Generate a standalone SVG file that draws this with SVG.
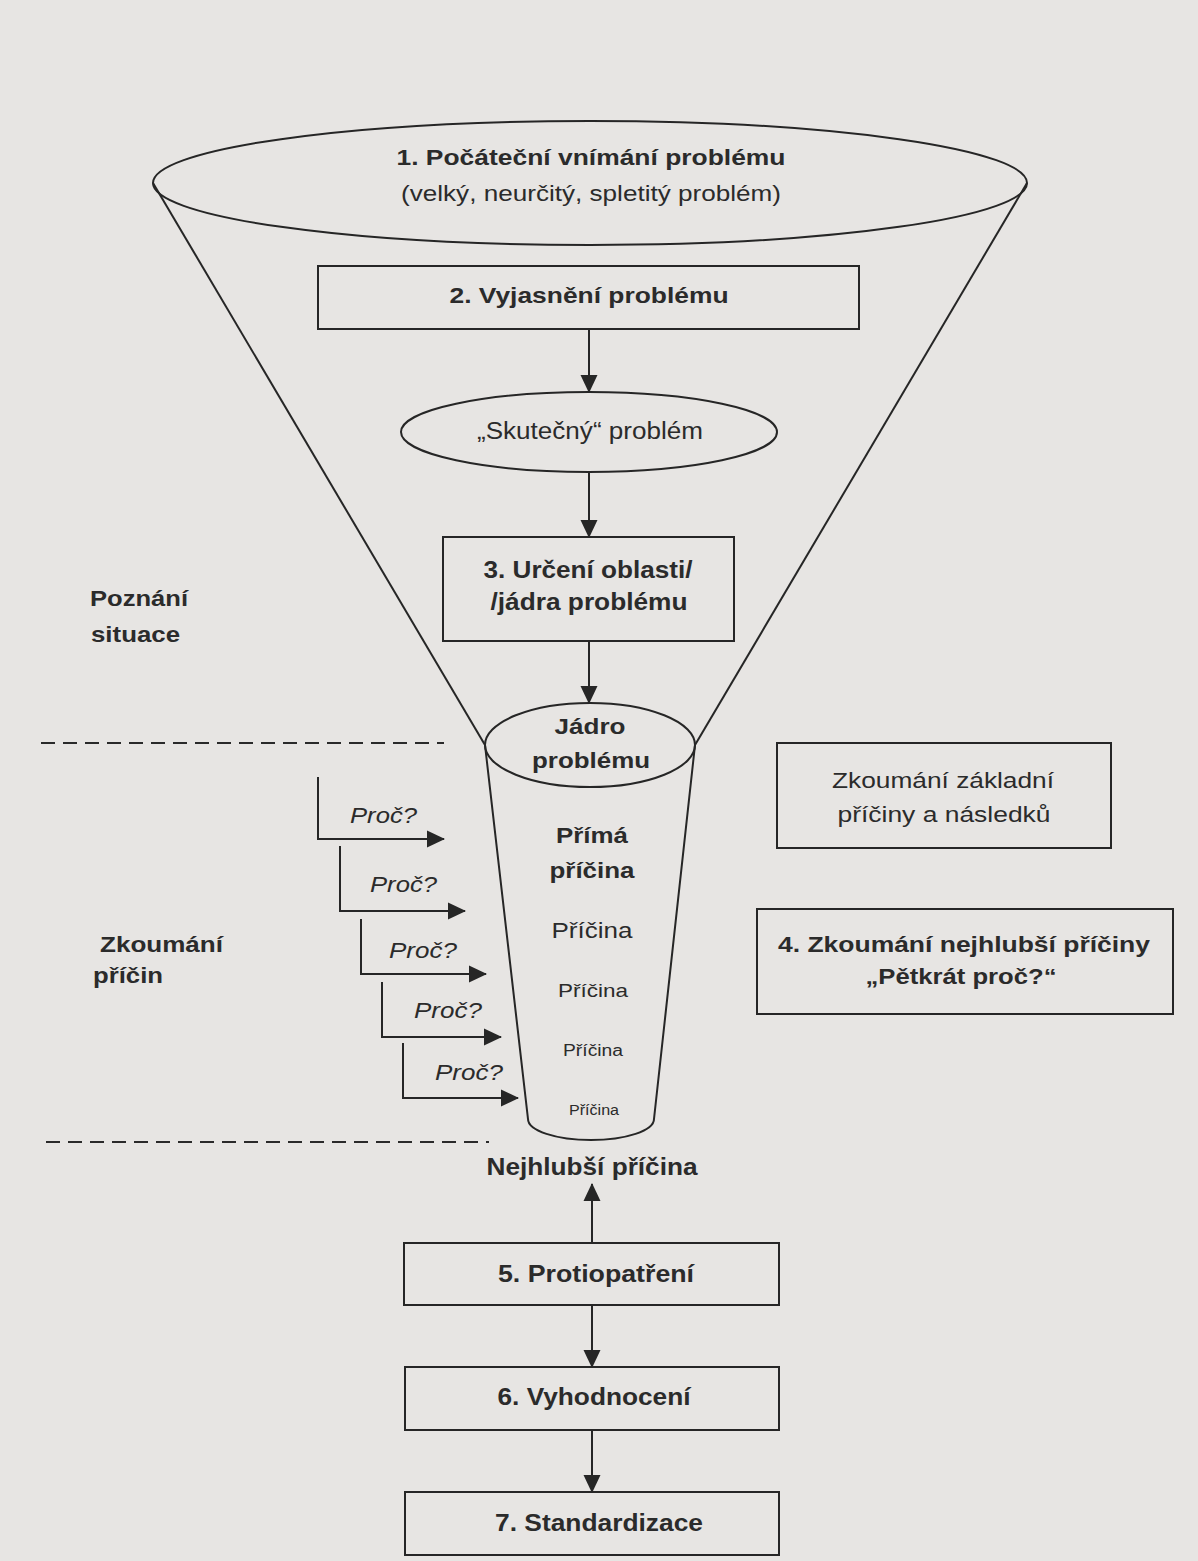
<svg xmlns="http://www.w3.org/2000/svg" width="1198" height="1561" viewBox="0 0 1198 1561">
<style>
  .ln{fill:none;stroke:#262626;stroke-width:2}
  .dash{fill:none;stroke:#2a2a2a;stroke-width:2.2;stroke-dasharray:14 8}
  text{fill:#2b2b2b;font-family:"Liberation Sans",Arial,sans-serif}
  .c{text-anchor:middle}
  .b{font-weight:bold}
  .n{font-family:"Liberation Sans Narrow","Liberation Sans",Arial,sans-serif}
  .i{font-style:italic}
</style>
<defs>
  <marker id="ah" markerUnits="userSpaceOnUse" markerWidth="18" markerHeight="18" viewBox="0 0 18 18" refX="17" refY="9" orient="auto">
    <path d="M0,0.5 L18,9 L0,17.5 z" fill="#262626"/>
  </marker>
</defs>
<rect x="0" y="0" width="1198" height="1561" fill="#e7e5e3"/>

<g id="funnel">
  <line class="ln" x1="153" y1="183" x2="485" y2="745"/>
  <line class="ln" x1="1027" y1="183" x2="695" y2="745"/>
</g>

<g id="step1">
  <ellipse class="ln" cx="590" cy="183" rx="437" ry="62"/>
  <text class="c b n" x="591" y="165" font-size="22" textLength="389" lengthAdjust="spacingAndGlyphs">1. Počáteční vnímání problému</text>
  <text class="c n" x="591" y="201" font-size="22" textLength="380" lengthAdjust="spacingAndGlyphs">(velký, neurčitý, spletitý problém)</text>
</g>

<g id="step2">
  <rect class="ln" x="318" y="266" width="541" height="63"/>
  <text class="c b n" x="589" y="303" font-size="22" textLength="279" lengthAdjust="spacingAndGlyphs">2. Vyjasnění problému</text>
</g>

<g id="real-problem">
  <ellipse class="ln" cx="589" cy="432" rx="188" ry="40"/>
  <text class="c" x="590" y="439" font-size="23" textLength="226" lengthAdjust="spacingAndGlyphs">„Skutečný“ problém</text>
</g>

<g id="step3">
  <rect class="ln" x="443" y="537" width="291" height="104"/>
  <text class="c b" x="588" y="578" font-size="23" textLength="209" lengthAdjust="spacingAndGlyphs">3. Určení oblasti/</text>
  <text class="c b" x="589" y="610" font-size="23" textLength="197" lengthAdjust="spacingAndGlyphs">/jádra problému</text>
</g>

<g id="core">
  <path class="ln" d="M485,745 L528,1119 A63,21 0 0 0 654,1119 L695,745"/>
  <ellipse class="ln" cx="590" cy="745" rx="105" ry="42"/>
  <text class="c b" x="590" y="734" font-size="22" textLength="71" lengthAdjust="spacingAndGlyphs">Jádro</text>
  <text class="c b" x="591" y="768" font-size="22" textLength="118" lengthAdjust="spacingAndGlyphs">problému</text>
  <text class="c b" x="592" y="843" font-size="22" textLength="72" lengthAdjust="spacingAndGlyphs">Přímá</text>
  <text class="c b" x="592" y="878" font-size="22" textLength="85" lengthAdjust="spacingAndGlyphs">příčina</text>
  <text class="c" x="592" y="938" font-size="22" textLength="81" lengthAdjust="spacingAndGlyphs">Příčina</text>
  <text class="c" x="593" y="997" font-size="19" textLength="70" lengthAdjust="spacingAndGlyphs">Příčina</text>
  <text class="c" x="593" y="1056" font-size="16" textLength="60" lengthAdjust="spacingAndGlyphs">Příčina</text>
  <text class="c" x="594" y="1115" font-size="14" textLength="50" lengthAdjust="spacingAndGlyphs">Příčina</text>
</g>

<g id="deepest-cause">
  <text class="c b n" x="592" y="1175" font-size="24" textLength="211" lengthAdjust="spacingAndGlyphs">Nejhlubší příčina</text>
</g>

<g id="basic-cause">
  <rect class="ln" x="777" y="743" width="334" height="105"/>
  <text class="c" x="943" y="788" font-size="22" textLength="222" lengthAdjust="spacingAndGlyphs">Zkoumání základní</text>
  <text class="c" x="944" y="822" font-size="22" textLength="213" lengthAdjust="spacingAndGlyphs">příčiny a následků</text>
</g>

<g id="step4">
  <rect class="ln" x="757" y="909" width="416" height="105"/>
  <text class="c b" x="964" y="952" font-size="22" textLength="372" lengthAdjust="spacingAndGlyphs">4. Zkoumání nejhlubší příčiny</text>
  <text class="c b" x="961" y="984" font-size="22" textLength="191" lengthAdjust="spacingAndGlyphs">„Pětkrát proč?“</text>
</g>

<g id="step5">
  <rect class="ln" x="404" y="1243" width="375" height="62"/>
  <text class="c b n" x="596" y="1282" font-size="23" textLength="196" lengthAdjust="spacingAndGlyphs">5. Protiopatření</text>
</g>

<g id="step6">
  <rect class="ln" x="405" y="1367" width="374" height="63"/>
  <text class="c b n" x="594" y="1405" font-size="23" textLength="193" lengthAdjust="spacingAndGlyphs">6. Vyhodnocení</text>
</g>

<g id="step7">
  <rect class="ln" x="405" y="1492" width="374" height="63"/>
  <text class="c b n" x="599" y="1531" font-size="23" textLength="208" lengthAdjust="spacingAndGlyphs">7. Standardizace</text>
</g>

<g id="phase-labels">
  <text class="b" x="90" y="606" font-size="22" textLength="98" lengthAdjust="spacingAndGlyphs">Poznání</text>
  <text class="b" x="91" y="642" font-size="22" textLength="89" lengthAdjust="spacingAndGlyphs">situace</text>
  <text class="b" x="100" y="952" font-size="22" textLength="123" lengthAdjust="spacingAndGlyphs">Zkoumání</text>
  <text class="b" x="93" y="983" font-size="22" textLength="70" lengthAdjust="spacingAndGlyphs">příčin</text>
  <line class="dash" x1="41" y1="743" x2="444" y2="743"/>
  <line class="dash" x1="46" y1="1142" x2="489" y2="1142"/>
</g>

<g id="connectors">
  <line class="ln" x1="589" y1="329" x2="589" y2="392" marker-end="url(#ah)"/>
  <line class="ln" x1="589" y1="473" x2="589" y2="537" marker-end="url(#ah)"/>
  <line class="ln" x1="589" y1="641" x2="589" y2="703" marker-end="url(#ah)"/>
  <line class="ln" x1="592" y1="1243" x2="592" y2="1184" marker-end="url(#ah)"/>
  <line class="ln" x1="592" y1="1305" x2="592" y2="1367" marker-end="url(#ah)"/>
  <line class="ln" x1="592" y1="1430" x2="592" y2="1492" marker-end="url(#ah)"/>
  <path class="ln" d="M318,777 V839 H444" marker-end="url(#ah)"/>
  <path class="ln" d="M340,846 V911 H465" marker-end="url(#ah)"/>
  <path class="ln" d="M361,919 V974 H486" marker-end="url(#ah)"/>
  <path class="ln" d="M382,982 V1037 H501" marker-end="url(#ah)"/>
  <path class="ln" d="M403,1043 V1098 H518" marker-end="url(#ah)"/>
  <text class="i" x="350" y="823" font-size="22" textLength="67" lengthAdjust="spacingAndGlyphs">Proč?</text>
  <text class="i" x="370" y="892" font-size="22" textLength="67" lengthAdjust="spacingAndGlyphs">Proč?</text>
  <text class="i" x="389" y="958" font-size="22" textLength="68" lengthAdjust="spacingAndGlyphs">Proč?</text>
  <text class="i" x="414" y="1018" font-size="22" textLength="68" lengthAdjust="spacingAndGlyphs">Proč?</text>
  <text class="i" x="435" y="1080" font-size="22" textLength="68" lengthAdjust="spacingAndGlyphs">Proč?</text>
</g>
</svg>
